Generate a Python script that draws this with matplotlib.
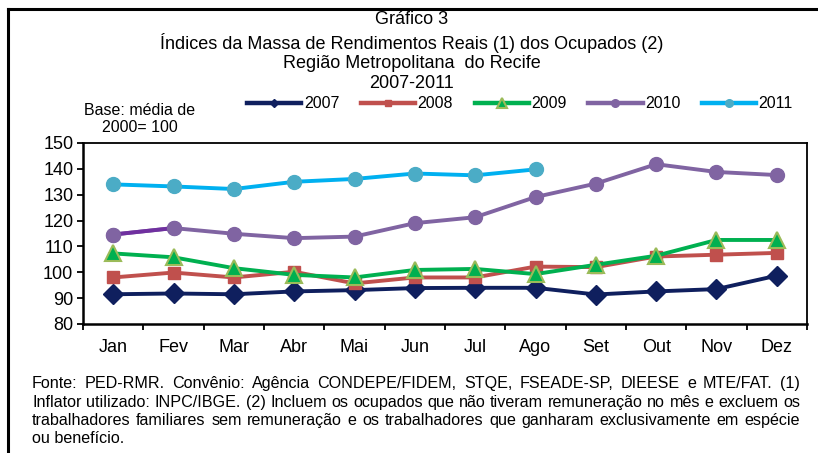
import matplotlib
matplotlib.use("Agg")
import matplotlib.pyplot as plt
from matplotlib.lines import Line2D
import numpy as np

plt.rcParams['font.family'] = ['Liberation Sans', 'DejaVu Sans']

months = ["Jan", "Fev", "Mar", "Abr", "Mai", "Jun", "Jul", "Ago", "Set", "Out", "Nov", "Dez"]
y2007 = [91.5, 91.8, 91.5, 92.6, 93.1, 93.9, 94.0, 94.0, 91.4, 92.6, 93.5, 98.7]
y2008 = [98.0, 99.9, 98.0, 100.2, 95.7, 98.0, 98.0, 102.2, 102.0, 106.1, 106.8, 107.5]
y2009 = [107.3, 105.8, 101.6, 99.0, 98.0, 100.9, 101.3, 99.3, 102.9, 106.4, 112.5, 112.5]
y2010 = [114.6, 117.1, 114.9, 113.2, 113.8, 119.0, 121.3, 129.1, 134.3, 141.8, 138.8, 137.6]
y2011 = [134.0, 133.2, 132.2, 135.0, 136.1, 138.2, 137.5, 139.8]
years = ["2007", "2008", "2009", "2010", "2011"]
yticks = [80, 90, 100, 110, 120, 130, 140, 150]

title_lines = ["Gráfico 3",
               "Índices da Massa de Rendimentos Reais (1) dos Ocupados (2)",
               "Região Metropolitana  do Recife",
               "2007-2011"]
base_note = "Base: média de\n2000= 100"
footnote = ["Fonte: PED-RMR. Convênio: Agência CONDEPE/FIDEM, STQE, FSEADE-SP, DIEESE e MTE/FAT. (1)",
            "Inflator utilizado: INPC/IBGE. (2) Incluem os ocupados que não tiveram remuneração no mês e excluem os",
            "trabalhadores familiares sem remuneração e os trabalhadores que ganharam exclusivamente em espécie",
            "ou benefício."]

W, H = 818, 453
fig = plt.figure(figsize=(W / 100, H / 100), dpi=100)
ax = fig.add_axes([83 / W, 1 - 324 / H, (807 - 83) / W, (324 - 143) / H])

x = np.arange(len(months))
x11 = np.arange(len(y2011))

styles = {
    "2007": dict(color="#0F1F5E", marker="D", ms=10, mfc="#0F1F5E", mec="#0F1F5E"),
    "2008": dict(color="#C0504D", marker="s", ms=9, mfc="#C0504D", mec="#C0504D"),
    "2009": dict(color="#00B050", marker="^", ms=12, mfc="#00B050", mec="#9BBB59", mew=1.5),
    "2010": dict(color="#8064A2", marker="o", ms=10, mfc="#8064A2", mec="#8064A2"),
    "2011": dict(color="#00B0F0", marker="o", ms=10, mfc="#4BACC6", mec="#4BACC6"),
}
lw = 2.8

ax.plot(x, y2007, lw=lw, zorder=3, **styles["2007"])
ax.plot(x, y2008, lw=lw, zorder=4, **styles["2008"])
ax.plot(x, y2009, lw=lw, zorder=5, **styles["2009"])
ax.plot(x, y2010, lw=lw, zorder=3, **styles["2010"])
ax.plot(x[:2], y2010[:2], lw=lw, color="#7030A0", zorder=3.5, solid_capstyle="butt")
ax.plot(x[:2], y2010[:2], lw=0, zorder=3.6, **{k: v for k, v in styles["2010"].items() if k != "color"})
ax.plot(x11, y2011, lw=lw, zorder=3, **styles["2011"])

ax.set_xlim(-0.5, len(months) - 0.5)
ax.set_ylim(80, 150)
ax.set_yticks(yticks)
ax.set_xticks(np.arange(-0.5, len(months) + 0.5, 1.0))
ax.set_xticklabels([])
ax.set_xticks(x, months, minor=True)
ax.tick_params(axis="x", which="minor", length=0, pad=11, labelsize=13)
ax.tick_params(axis="x", which="major", length=4, width=1.3, direction="out")
ax.tick_params(axis="y", length=4, width=1.3, direction="out", labelsize=13, pad=3)
for s in ax.spines.values():
    s.set_linewidth(1.3)
    s.set_color("black")
ax.spines["left"].set_linewidth(1.8)
ax.spines["bottom"].set_linewidth(1.8)

# Titles
ty = [20, 43, 63, 83]
for t, yy in zip(title_lines, ty):
    fig.text(412 / W, 1 - yy / H, t, ha="center", va="center", fontsize=13)

fig.text(140 / W, 1 - 119 / H, base_note, ha="center", va="center", fontsize=11.5, linespacing=1.15)

# Legend
handles = []
for yname in years:
    st = dict(styles[yname])
    st["ms"] = st["ms"] * 0.55
    if yname == "2007":
        st["ms"] = 4
    handles.append(Line2D([0], [0], lw=3.2, **st))
fig.legend(handles, years, loc="center", bbox_to_anchor=(520 / W, 1 - 104 / H), ncol=5, frameon=False,
           fontsize=11.5, handlelength=3.4, handletextpad=0.15, columnspacing=1.35, borderpad=0)

# Footnote, justified (baseline-aligned words)
renderer = fig.canvas.get_renderer()
x0, x1 = 32, 800
fy = [388, 407, 425, 443]
fs = 11.6
for i, (line, yy) in enumerate(zip(footnote, fy)):
    words = line.split(" ")
    if i == len(footnote) - 1:
        fig.text(x0 / W, 1 - yy / H, line, ha="left", va="baseline", fontsize=fs)
        continue
    texts = [fig.text(0, 1 - yy / H, w, ha="left", va="baseline", fontsize=fs) for w in words]
    widths = [t.get_window_extent(renderer).width for t in texts]
    gap = ((x1 - x0) - sum(widths)) / (len(words) - 1)
    cx = x0
    for t, wd in zip(texts, widths):
        t.set_x(cx / W)
        cx += wd + gap

# Outer frame
fig.add_artist(Line2D([8 / W, 8 / W], [0, 1 - 9 / H], color="black", lw=2.2, transform=fig.transFigure))
fig.add_artist(Line2D([8 / W, 1], [1 - 9 / H, 1 - 9 / H], color="black", lw=2.2, transform=fig.transFigure))

fig.savefig("out.png", dpi=100)
